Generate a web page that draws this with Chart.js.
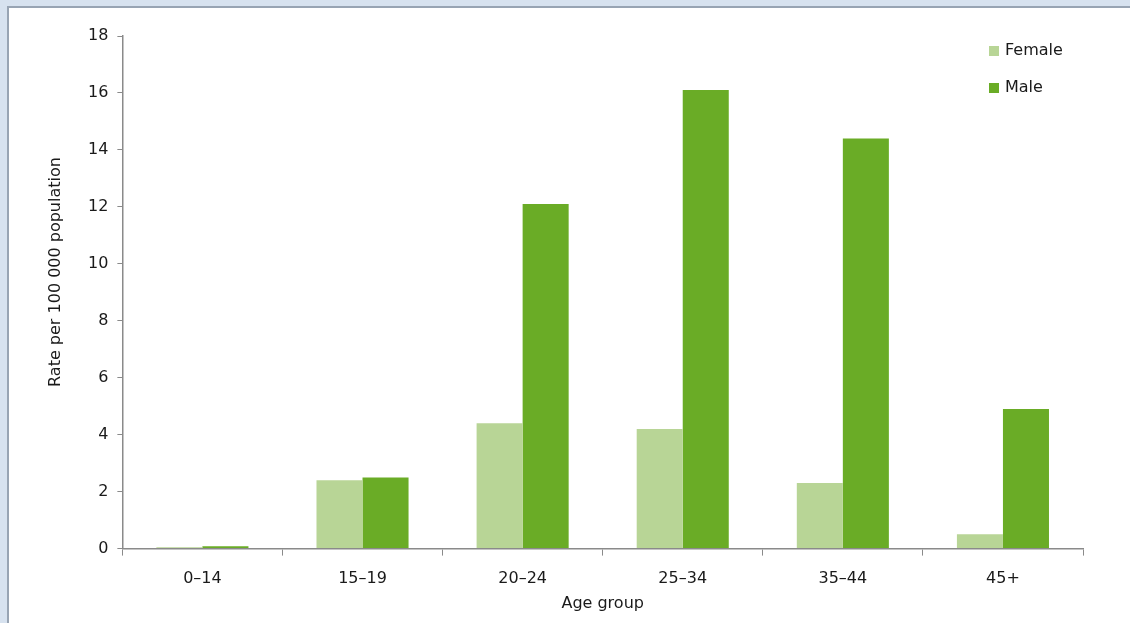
<!DOCTYPE html>
<html>
<head>
<meta charset="utf-8">
<script src="https://cdn.jsdelivr.net/npm/chart.js@4"></script>
<style>
  html, body { margin:0; padding:0; width:1130px; height:623px; overflow:hidden; background:#d7e2ef; }
  #frame { position:absolute; left:7px; top:6px; width:1123px; height:617px; background:#ffffff; border-left:2px solid #98a4b3; border-top:2px solid #98a4b3; box-sizing:border-box; }
  #wrap { position:absolute; left:0; top:0; width:1130px; height:623px; }
</style>
</head>
<body>
<div id="frame"></div>
<div id="wrap"><canvas id="c" width="1130" height="623"></canvas></div>
<script>
const categories = ['0–14', '15–19', '20–24', '25–34', '35–44', '45+'];
const femaleRates = [0.05, 2.4, 4.4, 4.2, 2.3, 0.5];
const maleRates = [0.08, 2.5, 12.1, 16.1, 14.4, 4.9];
const yTicks = [0, 2, 4, 6, 8, 10, 12, 14, 16, 18];
const seriesNames = ['Female', 'Male'];
const yAxisTitle = 'Rate per 100 000 population';
const xAxisTitle = 'Age group';
const FONT = 'DejaVu Sans';
const TXT = '#1a1a1a';

const annotations = {
  id: 'annotations',
  afterDraw(chart) {
    const ctx = chart.ctx;
    ctx.save();
    ctx.font = '16px "DejaVu Sans"';
    ctx.textBaseline = 'middle';
    ctx.textAlign = 'left';
    chart.data.datasets.forEach((ds, i) => {
      const y = 51 + i * 37;
      ctx.fillStyle = ds.backgroundColor;
      ctx.fillRect(989, y - 5, 10, 10);
      ctx.fillStyle = TXT;
      ctx.fillText(ds.label, 1005, y);
    });
    // y-axis title (placed as in the original, slightly above centre)
    ctx.translate(56, 272);
    ctx.rotate(-Math.PI / 2);
    ctx.textAlign = 'center';
    ctx.fillText(yAxisTitle, 0, 0);
    ctx.restore();
  }
};

new Chart(document.getElementById('c'), {
  type: 'bar',
  data: {
    labels: categories,
    datasets: [
      { label: seriesNames[0], data: femaleRates, backgroundColor: '#b8d596', categoryPercentage: 0.575, barPercentage: 1.0 },
      { label: seriesNames[1], data: maleRates, backgroundColor: '#6aac26', categoryPercentage: 0.575, barPercentage: 1.0 }
    ]
  },
  options: {
    responsive: false,
    animation: false,
    devicePixelRatio: 1,
    layout: { padding: { top: 36, right: 47, bottom: 10, left: 79 } },
    plugins: { legend: { display: false }, tooltip: { enabled: false } },
    scales: {
      x: {
        grid: { offset: true, drawOnChartArea: false, drawTicks: true, tickLength: 7, color: '#8a8a8a' },
        border: { color: '#8a8a8a', width: 1.5 },
        ticks: { color: TXT, font: { family: FONT, size: 16 }, padding: 14 },
        title: { display: true, text: xAxisTitle, color: TXT, font: { family: FONT, size: 16 }, padding: { top: -9, bottom: 0 } }
      },
      y: {
        min: 0, max: 18,
        afterBuildTicks(axis) { axis.ticks = yTicks.map(v => ({ value: v })); },
        grid: { drawOnChartArea: false, drawTicks: true, tickLength: 5, color: '#8a8a8a' },
        border: { color: '#8a8a8a', width: 1.5 },
        ticks: { color: TXT, font: { family: FONT, size: 16 }, padding: 9 }
      }
    }
  },
  plugins: [annotations]
});
</script>
</body>
</html>
